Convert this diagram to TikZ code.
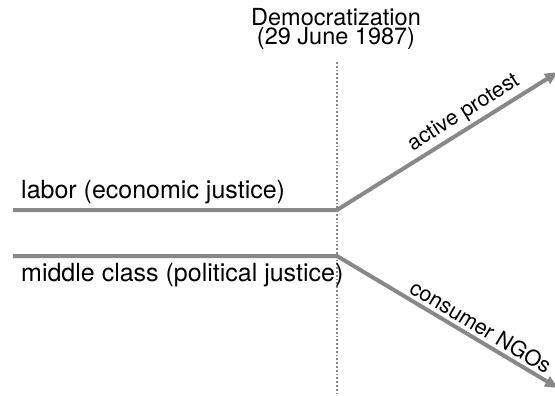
\documentclass[tikz,border=0pt]{standalone}
\usepackage{fontspec}
\setmainfont{TeX Gyre Heros}
\usetikzlibrary{arrows.meta}
\definecolor{trackgray}{HTML}{888888}
\tikzset{
  track/.style={draw=trackgray,line width=4pt,-{Triangle[length=13pt,width=11pt]}},
  divider/.style={draw=trackgray,line width=1.8pt,dash pattern=on 1.8pt off 2pt},
  groupname/.style={anchor=base west,inner sep=0pt,font=\fontsize{25}{28}\selectfont},
  branchname/.style={sloped,above,inner sep=3pt,font=\fontsize{21.5}{24}\selectfont}
}
\begin{document}
\begin{tikzpicture}[x=1pt,y=-1pt]
\useasboundingbox (0,0) rectangle (555,396);
\coordinate (divtop) at (337,62);
\coordinate (divbottom) at (337,396);
\coordinate (laborstart) at (13,210);
\coordinate (laborsplit) at (337,210);
\coordinate (laborend) at (558,72);
\coordinate (middlestart) at (13,256);
\coordinate (middlesplit) at (337,256);
\coordinate (middleend) at (558,388);
\node[align=center,anchor=north,inner sep=0pt,font=\fontsize{23.5}{19.5}\selectfont] (democ) at (336,8) {Democratization\\(29 June 1987)};
\draw[divider] (divtop) -- (divbottom);
\node[groupname] (labor) at (21,198) {labor (economic justice)};
\node[groupname] (middle) at (21,281) {middle class (political justice)};
\draw[track] (laborstart) -- (laborsplit) -- (laborend) node[branchname,pos=0.61] (protest) {active protest};
\draw[track] (middlestart) -- (middlesplit) -- (middleend) node[branchname,pos=0.62] (ngos) {consumer NGOs};
\end{tikzpicture}
\end{document}
